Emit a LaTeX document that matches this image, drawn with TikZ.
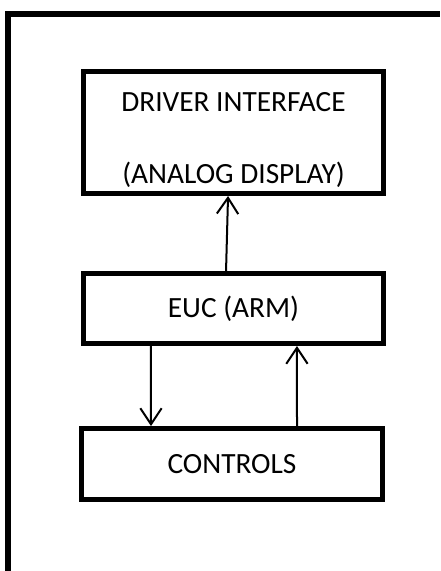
\documentclass[tikz,border=0pt]{standalone}
\usepackage{fontspec}
\setmainfont{Carlito}
\usetikzlibrary{arrows.meta}
\begin{document}
\begin{tikzpicture}[x=0.75pt, y=-0.75pt,
  font=\fontsize{22}{26.4}\selectfont,
  blk/.style={draw, line width=3.75pt, align=center, inner sep=0pt},
  arr/.style={-{Straight Barb[length=12pt, width=16pt]}, line width=1.5pt}]
  \useasboundingbox (0,0) rectangle (440,571);
  \draw[line width=4.5pt] (8,571) |- (440,14);
  \node[blk, minimum width=225pt, minimum height=91.5pt] (drv) at (233.5,132.5)
    {\rule{0pt}{26pt}DRIVER INTERFACE\\[27.6pt](ANALOG DISPLAY)};
  \node[blk, minimum width=225pt, minimum height=52.5pt] (euc) at (233.5,308.5) {EUC (ARM)};
  \node[blk, minimum width=225.75pt, minimum height=53.25pt] (ctl) at (232,464) {CONTROLS};
  \draw[arr] ([xshift=-5.6pt]euc.north) -- ([xshift=-4.1pt]drv.south);
  \draw[arr] ([xshift=-61.9pt]euc.south) -- ([xshift=-60.75pt]ctl.north);
  \draw[arr] ([xshift=48.75pt]ctl.north) -- ([xshift=47.6pt]euc.south);
\end{tikzpicture}
\end{document}
